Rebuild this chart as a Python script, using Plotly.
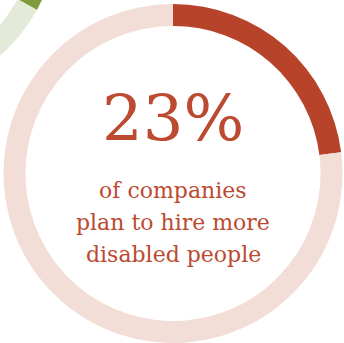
import numpy as np
import plotly.graph_objects as go

# Main donut: share of companies planning to hire more disabled people
main_labels = ["Plan to hire more", "Other"]
main_values = [23, 77]
main_colors = ["#b7432a", "#f2ddd7"]

# Neighbouring donut peeking in from the top-left corner
side_labels = ["Highlighted", "Other"]
side_values = [33, 67]
side_colors = ["#809b3b", "#e4ead8"]

headline = "23%"
caption_lines = ["of companies", "plan to hire more", "disabled people"]

W, H = 344, 343
R_OUT, R_IN = 170, 148
text_color = "#bb4a31"
serif = "DejaVu Serif"


def ring_segments(values, cx, cy, r_out, r_in, n=240):
    """Clockwise ring segments starting at 12 o'clock, in screen pixels (y down)."""
    total = float(sum(values))
    start = 0.0
    segs = []
    for v in values:
        end = start + v / total * 2 * np.pi
        t = np.linspace(start, end, n)
        xo = cx + r_out * np.sin(t)
        yo = cy - r_out * np.cos(t)
        xi = cx + r_in * np.sin(t[::-1])
        yi = cy - r_in * np.cos(t[::-1])
        segs.append((np.concatenate([xo, xi, xo[:1]]), np.concatenate([yo, yi, yo[:1]])))
        start = end
    return segs


fig = go.Figure()

for (sx, sy), col, lab in zip(ring_segments(side_values, -112, -72, R_OUT, R_IN),
                              side_colors, side_labels):
    fig.add_trace(go.Scatter(x=sx, y=sy, mode="lines", fill="toself",
                             fillcolor=col, line=dict(width=0), name=lab,
                             hoverinfo="skip", showlegend=False))

fig.add_trace(go.Pie(
    labels=main_labels, values=main_values,
    marker=dict(colors=main_colors, line=dict(width=0)),
    hole=R_IN / R_OUT, sort=False, direction="clockwise", rotation=0,
    textinfo="none", hoverinfo="skip", showlegend=False,
    domain=dict(x=[3 / W, 343 / W], y=[0, 339 / H]),
))

fig.add_annotation(x=173, y=119, text=headline, showarrow=False,
                   xanchor="center", yanchor="middle",
                   font=dict(family=serif, size=64, color=text_color))

for yy, line in zip([190, 222, 254], caption_lines):
    fig.add_annotation(x=173, y=yy, text=line, showarrow=False,
                       xanchor="center", yanchor="middle",
                       font=dict(family=serif, size=22, color=text_color))

fig.update_xaxes(range=[0, W], visible=False, fixedrange=True)
fig.update_yaxes(range=[H, 0], visible=False, fixedrange=True)
fig.update_layout(width=W, height=H, margin=dict(l=0, r=0, t=0, b=0),
                  paper_bgcolor="white", plot_bgcolor="white")

fig.write_html("out.html", config={"displayModeBar": False})
